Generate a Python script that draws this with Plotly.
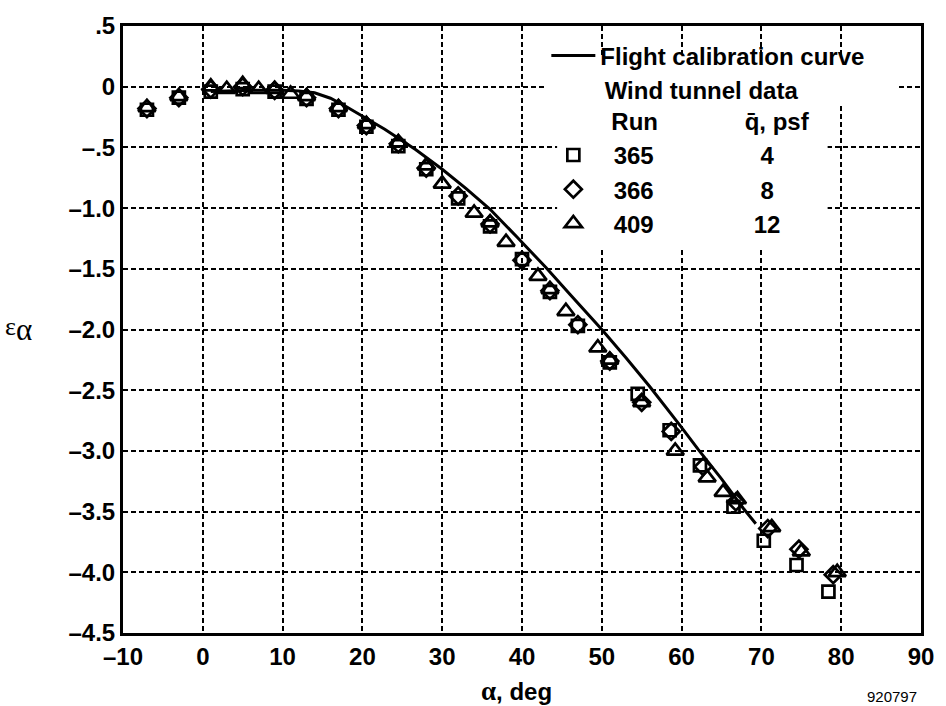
import plotly.graph_objects as go

# Flight calibration curve
alpha_flight = [1, 6, 10, 12, 14, 16, 18, 20, 22.8, 26.7, 30, 33, 36, 39.4, 43, 46, 50, 53, 56, 59.8, 62.1, 65,
                67.7, 69.3]
eps_flight = [-0.04, -0.03, -0.03, -0.035, -0.05, -0.095, -0.165, -0.24, -0.35, -0.52, -0.68, -0.84, -1.01, -1.24,
              -1.49, -1.71, -2.0, -2.23, -2.47, -2.79, -2.99, -3.23, -3.47, -3.6]

# Wind tunnel runs
alpha_365 = [-7, -3, 1, 5, 9, 13, 17, 20.5, 24.5, 28, 32, 36, 40, 43.5, 47, 51, 54.5, 58.5, 62.3, 66.5, 70.3, 74.4, 78.4]
eps_365 = [-0.19, -0.09, -0.04, -0.02, -0.04, -0.1, -0.19, -0.33, -0.49, -0.68, -0.92, -1.15, -1.42, -1.69, -1.97,
           -2.27, -2.53, -2.83, -3.12, -3.46, -3.74, -3.94, -4.16]

alpha_366 = [-7, -3, 1, 5, 9, 13, 17, 20.5, 24.5, 28, 32, 36, 40, 43.5, 47, 51, 55, 58.7, 62.7, 66.8, 70.8, 74.7, 79]
eps_366 = [-0.18, -0.09, -0.02, 0.0, -0.03, -0.09, -0.18, -0.32, -0.47, -0.67, -0.9, -1.13, -1.43, -1.68, -1.96,
           -2.26, -2.6, -2.84, -3.13, -3.42, -3.64, -3.81, -4.02]

alpha_409 = [-7, -3, 1, 3, 5, 7, 9, 11, 13, 17, 20.5, 24.5, 28, 30, 34, 36, 38, 42, 43.5, 45.5, 49.5, 51, 55, 59.2,
             63.2, 65.2, 67, 71.3, 75, 79.5]
eps_409 = [-0.17, -0.08, 0.0, -0.02, 0.02, -0.02, -0.02, -0.06, -0.08, -0.17, -0.31, -0.46, -0.65, -0.8, -1.04,
           -1.12, -1.28, -1.56, -1.67, -1.85, -2.15, -2.25, -2.6, -3.0, -3.22, -3.34, -3.4, -3.63, -3.83, -4.0]

runs = ["365", "366", "409"]
qbar = ["4", "8", "12"]

x_tickvals = [-10, 0, 10, 20, 30, 40, 50, 60, 70, 80, 90]
x_ticktext = ["\u201310", "0", "10", "20", "30", "40", "50", "60", "70", "80", "90"]
y_tickvals = [0.5, 0, -0.5, -1.0, -1.5, -2.0, -2.5, -3.0, -3.5, -4.0, -4.5]
y_ticktext = [".5", "0", "\u2013.5", "\u20131.0", "\u20131.5", "\u20132.0", "\u20132.5", "\u20133.0", "\u20133.5",
              "\u20134.0", "\u20134.5"]

FONT = "Liberation Sans, Arial, Helvetica, sans-serif"
NB = "\u00a0"

fig = go.Figure()

fig.add_trace(go.Scatter(
    x=alpha_flight, y=eps_flight, mode="lines",
    line=dict(color="black", width=3),
    name="Flight calibration curve", legendgroup="flight",
))

symbols = ["square-open", "diamond-open", "triangle-up-open"]
sizes = [12, 13, 15]
series = [(alpha_365, eps_365), (alpha_366, eps_366), (alpha_409, eps_409)]
gaps = [16, 16, 15]
for i, (ax, ey) in enumerate(series):
    label = NB * 2 + runs[i] + NB * gaps[i] + qbar[i]
    tr = dict(
        x=ax, y=ey, mode="markers",
        marker=dict(symbol=symbols[i], size=sizes[i], color="black", line=dict(color="black", width=2.7)),
        name=label, legendgroup="tunnel",
    )
    if i == 0:
        tr["legendgrouptitle"] = dict(
            text=NB * 8 + "Wind tunnel data<br>" + NB * 9 + "Run" + NB * 13 + "q\u0304, psf",
            font=dict(family=FONT, size=24, color="black", weight="bold"),
        )
    fig.add_trace(go.Scatter(**tr))

# white patches behind the legend text (between gridlines and data)
fig.add_shape(type="rect", xref="x", yref="y", x0=42.9, x1=87.1, y0=-0.147, y1=0.257,
              fillcolor="white", line=dict(width=0), layer="between")
fig.add_shape(type="rect", xref="x", yref="y", x0=44.4, x1=78.3, y0=-1.32, y1=-0.147,
              fillcolor="white", line=dict(width=0), layer="between")

axis_common = dict(
    showline=True, linecolor="black", linewidth=3, mirror=True,
    showgrid=True, gridcolor="black", gridwidth=2, griddash="5px,3px",
    zeroline=False, ticks="",
    tickfont=dict(family=FONT, size=24, color="black", weight="bold"),
)

fig.update_layout(
    width=946, height=706, autosize=False,
    margin=dict(l=123, r=20, t=15, b=73),
    paper_bgcolor="white", plot_bgcolor="white",
    showlegend=True,
    legend=dict(
        x=0.5305, y=0.988, xanchor="left", yanchor="top",
        bgcolor="rgba(0,0,0,0)", borderwidth=0, tracegroupgap=0,
        font=dict(family=FONT, size=24, color="black", weight="bold"),
        itemwidth=44,
    ),
    xaxis=dict(range=[-10, 90], tickvals=x_tickvals, ticktext=x_ticktext, **axis_common),
    yaxis=dict(range=[-4.5, 0.5], tickvals=y_tickvals, ticktext=y_ticktext, **axis_common),
)

# axis titles
fig.add_annotation(
    xref="paper", yref="paper", x=0.493, y=-0.095, xanchor="center", yanchor="middle", showarrow=False,
    text="<span style='font-family:Liberation Serif;font-size:27px'>\u03b1</span>, deg",
    font=dict(family=FONT, size=24, color="black", weight="bold"),
)
fig.add_annotation(
    xref="paper", yref="paper", x=-0.150, y=0.50, xanchor="left", yanchor="middle", showarrow=False,
    text="<span style='font-size:26px'>\u03b5</span><sub><span style='font-size:31px'>\u03b1</span></sub>",
    font=dict(family="Liberation Serif, Times New Roman, serif", size=26, color="black"),
)
fig.add_annotation(
    xref="paper", yref="paper", x=0.998, y=-0.105, xanchor="right", yanchor="middle", showarrow=False,
    text="920797",
    font=dict(family=FONT, size=15, color="black"),
)

fig.write_html("out.html")
